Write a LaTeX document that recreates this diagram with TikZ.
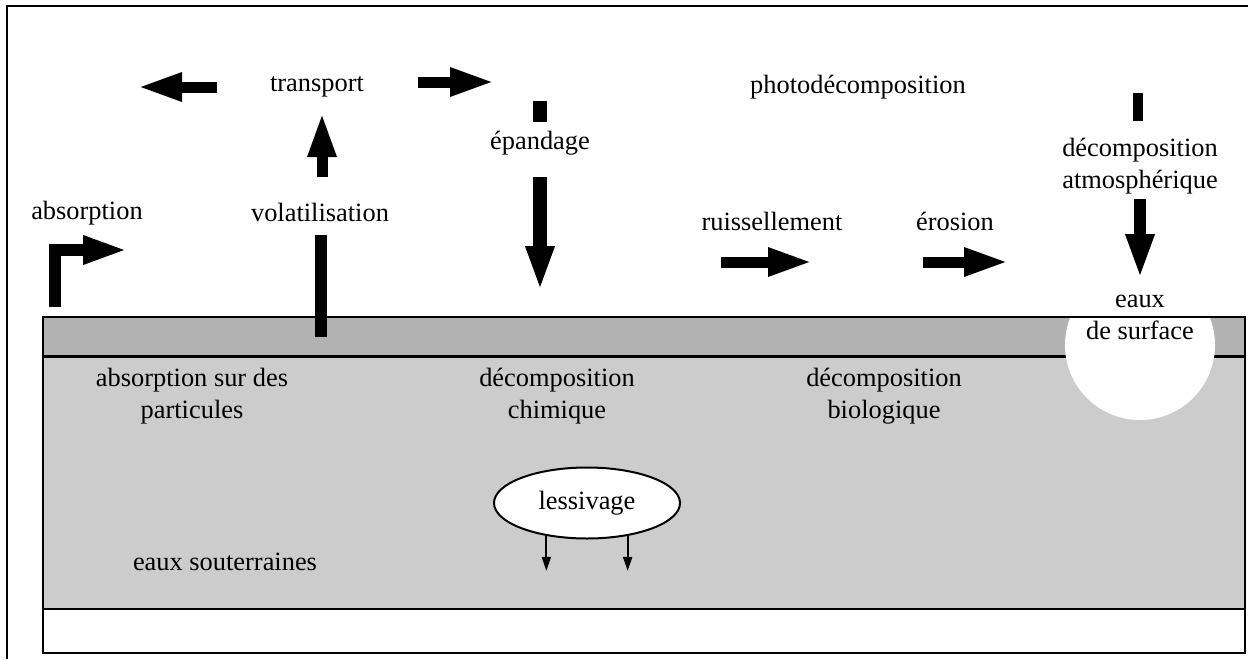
\documentclass[tikz,border=0pt]{standalone}
\usepackage{fontspec}
\setmainfont{Liberation Serif}
\usetikzlibrary{arrows.meta,shapes.geometric}

\tikzset{
	txt/.style={inner sep=0pt, align=center, font=\fontsize{13.2}{16}\selectfont},
	fleche/.style={line width=5.5pt, -{Triangle[length=22.5pt,width=13pt]}},
	barre/.style={line width=5.5pt},
	petite/.style={line width=1pt, -{Triangle[length=7pt,width=4.5pt]}}
}

\begin{document}
\begin{tikzpicture}[x=0.5pt,y=-0.5pt]
				\useasboundingbox (0,0) rectangle (1248,659);
				\draw[line width=1pt] (7,659) -- (7,6) -- (1248,6);
				
				% sol
				\fill[black!30] (43,317) rectangle (1245,356);
				\fill[black!20] (43,356) rectangle (1245,609);
				\draw[line width=1.5pt] (43,356) -- (1245,356);
				\draw[line width=1pt] (43,609) -- (1245,609);
				\begin{scope}
					\clip (43,317) rectangle (1245,653);
					\fill[white] (1140,345) circle (75);
				\end{scope}
				\draw[line width=1pt] (43,317) rectangle (1245,653);
				
				% textes
				\node[txt] (transport) at (317,87) {transport};
				\node[txt] (volat) at (320,212) {volatilisation};
				\node[txt] (absorp) at (87,213) {absorption};
				\node[txt] (epand) at (540,143) {épandage};
				\node[txt] (photo) at (858,87) {photodécomposition};
				\node[txt] (ruiss) at (772,221) {ruissellement};
				\node[txt] (erosion) at (955,221) {érosion};
				\node[txt] (atmos) at (1140,166) {décomposition\\atmosphérique};
				\node[txt] (surface) at (1140,317) {eaux\\de surface};
				\node[txt] (partic) at (192,396) {absorption sur des\\particules};
				\node[txt] (chim) at (557,396) {décomposition\\chimique};
				\node[txt] (bio) at (884,396) {décomposition\\biologique};
				\node[txt] (souter) at (225,562) {eaux souterraines};
				\node[txt, draw, line width=1pt, fill=white, ellipse, minimum width=93pt, minimum height=35.5pt] (lessiv) at (587,503) {lessivage};
				
				% fleches
				\draw[fleche] (217,87) -- (137,87);
				\draw[fleche] (418,82) -- (495,82);
				\draw[fleche] (322,177) -- (322,112);
				\draw[barre, line width=6pt] (321,337) -- (321,235);
				\draw[fleche, line width=6pt, line join=miter] (55,307) -- (55,250) -- (128,250);
				\draw[barre, line width=7pt] (540,101) -- (540,122);
				\draw[fleche, line width=7pt] (540,177) -- (540,291);
				\draw[fleche] (721,262) -- (813,262);
				\draw[fleche] (923,262) -- (1009,262);
				\draw[barre, line width=5pt] (1138,93) -- (1138,121);
				\draw[fleche, line width=6pt] (1140,199) -- (1140,279);
				\draw[petite] (lessiv.219) -- ++(0,35);
				\draw[petite] (lessiv.321) -- ++(0,35);
\end{tikzpicture}
\end{document}
